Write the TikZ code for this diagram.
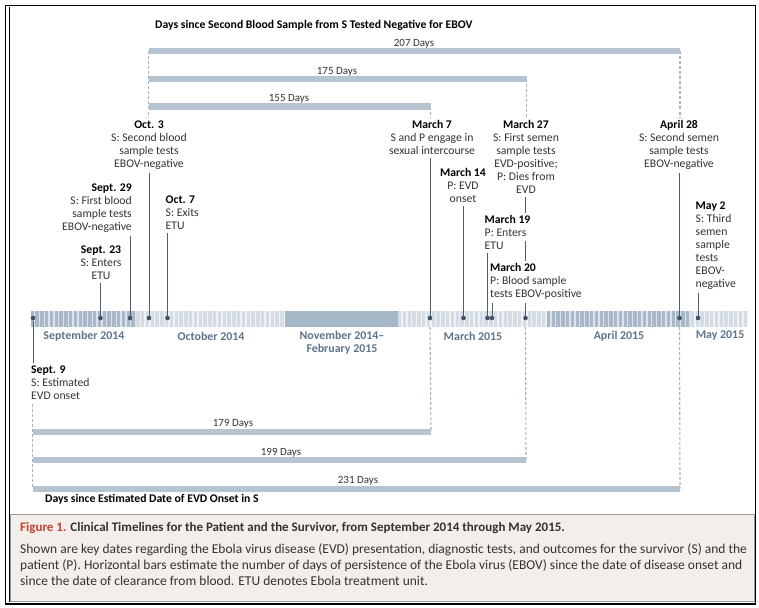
\documentclass[tikz,border=0pt]{standalone}
\usepackage{fontspec}
\setmainfont{Carlito}
\definecolor{barc}{HTML}{B6C3D0}
\definecolor{dashc}{HTML}{A5B2BF}
\definecolor{leadc}{HTML}{4B5F73}
\definecolor{dotc}{HTML}{3E5367}
\definecolor{monthc}{HTML}{5E738A}
\definecolor{darkstripe}{HTML}{A8B8C8}
\definecolor{darkbase}{HTML}{DCE3EA}
\definecolor{lightstripe}{HTML}{D5DCE3}
\definecolor{lightbase}{HTML}{F0F3F6}
\definecolor{blockc}{HTML}{A6B7C7}
\definecolor{capbg}{HTML}{F3EEEA}
\definecolor{capline}{HTML}{9A9A9A}
\definecolor{figred}{HTML}{C5412F}
\definecolor{txtc}{HTML}{333333}
\newcommand{\evhead}[1]{{\color{black}\bfseries #1}}
\begin{document}
\begin{tikzpicture}[x=1pt,y=-1pt,
  evlabel/.style={font=\fontsize{11.7}{13}\selectfont, inner sep=0pt, text=txtc},
  evc/.style={evlabel, anchor=north, align=center},
  evl/.style={evlabel, anchor=north west, align=left},
  evr/.style={evlabel, anchor=north east, align=right},
  lead/.style={draw=leadc, line width=0.9pt, shorten <=3pt},
  dashline/.style={draw=dashc, line width=1.1pt, dash pattern=on 3pt off 2pt},
  bar/.style={draw=barc, line width=6pt},
  barlabel/.style={font=\fontsize{11}{12}\selectfont, text=txtc, inner sep=0pt},
  dot/.style={circle, fill=dotc, inner sep=0pt, minimum size=4.6pt},
  month/.style={font=\fontsize{11.9}{13}\selectfont\bfseries, text=monthc, inner sep=0pt, align=center},
  heading/.style={font=\fontsize{11.7}{13}\selectfont\bfseries, inner sep=0pt, anchor=west}
]
\useasboundingbox (0,0) rectangle (759,607);

% frame
\draw[line width=1.6pt] (5.5,5.5) rectangle (755.5,604);
\draw[line width=0.7pt] (9.5,7) -- (9.5,602);

% timeline bar
\fill[darkbase] (30.6,311) rectangle (136.2,327);
\foreach \i in {0,...,21} \fill[darkstripe] ({30.6+\i*4.8},311) rectangle ++(3.4,16);
\fill[lightbase] (136.2,311) rectangle (285,327);
\foreach \i in {0,...,30} \fill[lightstripe] ({136.2+\i*4.8},311) rectangle ++(3.4,16);
\fill[blockc] (285,311) rectangle (398,327);
\fill[lightbase] (398,311) rectangle (546.8,327);
\foreach \i in {0,...,30} \fill[lightstripe] ({398+\i*4.8},311) rectangle ++(3.4,16);
\fill[darkbase] (546.8,311) rectangle (690.8,327);
\foreach \i in {0,...,29} \fill[darkstripe] ({546.8+\i*4.8},311) rectangle ++(3.4,16);
\fill[lightbase] (690.8,311) rectangle (748.4,327);
\foreach \i in {0,...,11} \fill[lightstripe] ({690.8+\i*4.8},311) rectangle ++(3.4,16);
\coordinate (barbot) at (0,327);

% month labels
\node[month] (msep) at (84,336) {September 2014};
\node[month] (moct) at (211,336) {October 2014};
\node[month] (mnov) at (342,342.5) {November 2014–\\February 2015};
\node[month] (mmar) at (473,336) {March 2015};
\node[month] (mapr) at (619,336) {April 2015};
\node[month] (mmay) at (720,336) {May 2015};

% dots
\node[dot] (d-sep9) at (33,318) {};
\node[dot] (d-sep23) at (100.5,318) {};
\node[dot] (d-sep29) at (130,318) {};
\node[dot] (d-oct3) at (149,318) {};
\node[dot] (d-oct7) at (167.5,318) {};
\node[dot] (d-mar7) at (430,318) {};
\node[dot] (d-mar14) at (463.5,318) {};
\node[dot] (d-mar19) at (487.5,318) {};
\node[dot] (d-mar20) at (492,318) {};
\node[dot] (d-mar27) at (525.5,318) {};
\node[dot] (d-apr28) at (679.5,318) {};
\node[dot] (d-may2) at (698,318) {};

% event labels
\node[evc] (oct3) at (149,120.5) {\evhead{Oct. 3}\\S: Second blood\\sample tests\\EBOV-negative};
\node[evr] (sep29) at (132,183.5) {\evhead{Sept. 29}\\S: First blood\\sample tests\\EBOV-negative};
\node[evl] (oct7) at (165.5,195.5) {\evhead{Oct. 7}\\S: Exits\\ETU};
\node[evc] (sep23) at (101,245.5) {\evhead{Sept. 23}\\S: Enters\\ETU};
\node[evl] (sep9) at (31,365.5) {\evhead{Sept. 9}\\S: Estimated\\EVD onset};
\node[evc] (mar7) at (432,120.5) {\evhead{March 7}\\S and P engage in\\sexual intercourse};
\node[evc] (mar27) at (526,120.5) {\evhead{March 27}\\S: First semen\\sample tests\\EVD-positive;\\P: Dies from\\EVD};
\node[evc] (mar14) at (463,168.5) {\evhead{March 14}\\P: EVD\\onset};
\node[evl] (mar19head) at (484.5,215.5) {\evhead{March 19}};
\node[evl] (mar19) at (484.5,229) {P: Enters\\ETU};
\node[evl] (mar20) at (490,263.5) {\evhead{March 20}\\P: Blood sample\\tests EBOV-positive};
\node[evc] (apr28) at (679,120.5) {\evhead{April 28}\\S: Second semen\\sample tests\\EBOV-negative};
\node[evl] (may2) at (695.5,201.5) {\evhead{May 2}\\S: Third\\semen\\sample\\tests\\EBOV-\\negative};

% leaders
\draw[lead] (d-oct3 |- oct3.south) -- (d-oct3);
\draw[lead] (d-sep29 |- sep29.south) -- (d-sep29);
\draw[lead] (d-oct7 |- oct7.south) -- (d-oct7);
\draw[lead] (d-sep23 |- sep23.south) -- (d-sep23);
\draw[lead, shorten <=0pt, shorten >=3pt] (d-sep9) -- (d-sep9 |- sep9.north);
\draw[lead] (d-mar7 |- mar7.south) -- (d-mar7);
\draw[lead] (d-mar14 |- mar14.south) -- (d-mar14);
\draw[lead] (d-mar19 |- mar19.south) -- (d-mar19);
\draw[lead] (d-mar20 |- mar20.south) -- (d-mar20);
\draw[lead, shorten >=3pt] (d-mar27 |- mar27.south) -- (d-mar27 |- mar19head.north);
\draw[lead, shorten <=0pt, shorten >=3pt] ([yshift=-12pt]d-mar27 |- mar19.north) -- (d-mar27 |- mar20.north);
\draw[lead] (d-mar27 |- mar20.south) -- (d-mar27);
\draw[lead] (d-apr28 |- apr28.south) -- (d-apr28);
\draw[lead] (d-may2 |- may2.south) -- (d-may2);

% top title and bars
\node[heading] (toptitle) at (155,25) {Days since Second Blood Sample from S Tested Negative for EBOV};
\coordinate (b207s) at (148.5,51.5); \coordinate (b207e) at (680,51.5);
\coordinate (b175s) at (148.5,79); \coordinate (b175e) at (526.5,79);
\coordinate (b155s) at (148.5,106.5); \coordinate (b155e) at (430.5,106.5);
\draw[dashline, shorten >=3pt] (b207s) -- (b207s |- oct3.north);
\draw[dashline, shorten >=3pt] (b207e) -- (b207e |- apr28.north);
\draw[dashline, shorten >=3pt] (b175e) -- (b175e |- mar27.north);
\draw[dashline, shorten >=3pt] (b155e) -- (b155e |- mar7.north);
\draw[bar] (b207s) -- (b207e);
\draw[bar] (b175s) -- (b175e);
\draw[bar] (b155s) -- (b155e);
\node[barlabel] (l207) at (414,44) {207 Days};
\node[barlabel] (l175) at (337,72) {175 Days};
\node[barlabel] (l155) at (289,99) {155 Days};

% bottom bars
\coordinate (b179s) at (32.5,432); \coordinate (b179e) at (431,432);
\coordinate (b199s) at (32.5,460); \coordinate (b199e) at (526,460);
\coordinate (b231s) at (32.5,488.5); \coordinate (b231e) at (680,488.5);
\draw[dashline] (d-mar7 |- barbot) -- (b179e);
\draw[dashline] (d-mar27 |- barbot) -- (b199e);
\draw[dashline] (d-apr28 |- barbot) -- (b231e);
\draw[dashline, shorten <=4pt] (b231s |- sep9.south) -- (b231s);
\draw[bar] (b179s) -- (b179e);
\draw[bar] (b199s) -- (b199e);
\draw[bar] (b231s) -- (b231e);
\node[barlabel] (l179) at (233,424) {179 Days};
\node[barlabel] (l199) at (281,452.5) {199 Days};
\node[barlabel] (l231) at (358,481) {231 Days};
\node[heading] (bottitle) at (45,499) {Days since Estimated Date of EVD Onset in S};

% caption
\draw[draw=capline, fill=capbg, line width=0.8pt] (10,514.5) rectangle (754,601);
\node[anchor=west, inner sep=0pt, font=\fontsize{13}{15}\selectfont\bfseries, text=txtc] (caphead) at (20,528)
  {\textcolor{figred}{Figure 1.} Clinical Timelines for the Patient and the Survivor, from September 2014 through May 2015.};
\node[anchor=north west, inner sep=0pt, align=left, font=\fontsize{13.5}{16}\selectfont, text=txtc] (capbody) at (20,543)
  {Shown are key dates regarding the Ebola virus disease (EVD) presentation, diagnostic tests, and outcomes for the survivor (S) and the\\
   patient (P). Horizontal bars estimate the number of days of persistence of the Ebola virus (EBOV) since the date of disease onset and\\
   since the date of clearance from blood. ETU denotes Ebola treatment unit.};
\end{tikzpicture}
\end{document}
